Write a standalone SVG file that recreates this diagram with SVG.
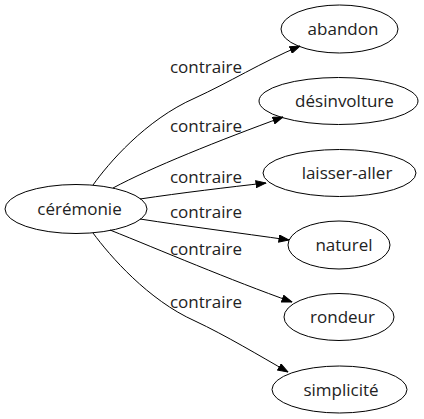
<svg xmlns="http://www.w3.org/2000/svg" width="424" height="419" viewBox="0 0 424 419">
<style>
.n ellipse{fill:none;stroke:#000;stroke-width:1}
.n text,.lbl{font-family:"Open Sans","DejaVu Sans",sans-serif;font-size:17px;fill:#222;text-anchor:middle}
.e path{fill:none;stroke:#000;stroke-width:1}
</style>
<defs>
<marker id="a" viewBox="0 0 11 8" refX="10.5" refY="4" markerWidth="11" markerHeight="8" markerUnits="userSpaceOnUse" orient="auto">
<path d="M0.5,0.5L10.5,4L0.5,7.5Z" fill="#000" stroke="#000" stroke-width="1"/>
</marker>
</defs>
<rect width="424" height="419" fill="#fff"/>
<g id="edges" class="e">
<path d="M93,185C108,164 145,120 195,98C228,83 262,62 300,46" marker-end="url(#a)"/>
<path d="M113,188C150,168 220,140 283,117" marker-end="url(#a)"/>
<path d="M140,199C180,193 230,187 266,183" marker-end="url(#a)"/>
<path d="M140,219C185,226 240,233 289,240" marker-end="url(#a)"/>
<path d="M110,230C160,250 230,280 292,302" marker-end="url(#a)"/>
<path d="M93,233C110,256 148,300 195,321C225,335 260,356 288,372" marker-end="url(#a)"/>
<text class="lbl" x="206" y="73">contraire</text>
<text class="lbl" x="206" y="132">contraire</text>
<text class="lbl" x="206" y="183">contraire</text>
<text class="lbl" x="206" y="218">contraire</text>
<text class="lbl" x="206" y="255">contraire</text>
<text class="lbl" x="206" y="308">contraire</text>
</g>
<g id="ceremonie" class="n"><ellipse cx="76" cy="209" rx="71" ry="24.5"/><text x="79.5" y="215">cérémonie</text></g>
<g id="abandon" class="n"><ellipse cx="339.5" cy="29" rx="58.5" ry="24"/><text x="343" y="35">abandon</text></g>
<g id="desinvolture" class="n"><ellipse cx="338.5" cy="101" rx="79.5" ry="23.5"/><text x="344.5" y="107">désinvolture</text></g>
<g id="laisser-aller" class="n"><ellipse cx="339.5" cy="173" rx="76.5" ry="23.5"/><text x="347" y="179">laisser-aller</text></g>
<g id="naturel" class="n"><ellipse cx="339" cy="245" rx="51" ry="24"/><text x="344" y="251">naturel</text></g>
<g id="rondeur" class="n"><ellipse cx="339" cy="317" rx="55" ry="23.5"/><text x="342.5" y="323">rondeur</text></g>
<g id="simplicite" class="n"><ellipse cx="339.5" cy="389.5" rx="67.5" ry="23.5"/><text x="341" y="396">simplicité</text></g>
</svg>
